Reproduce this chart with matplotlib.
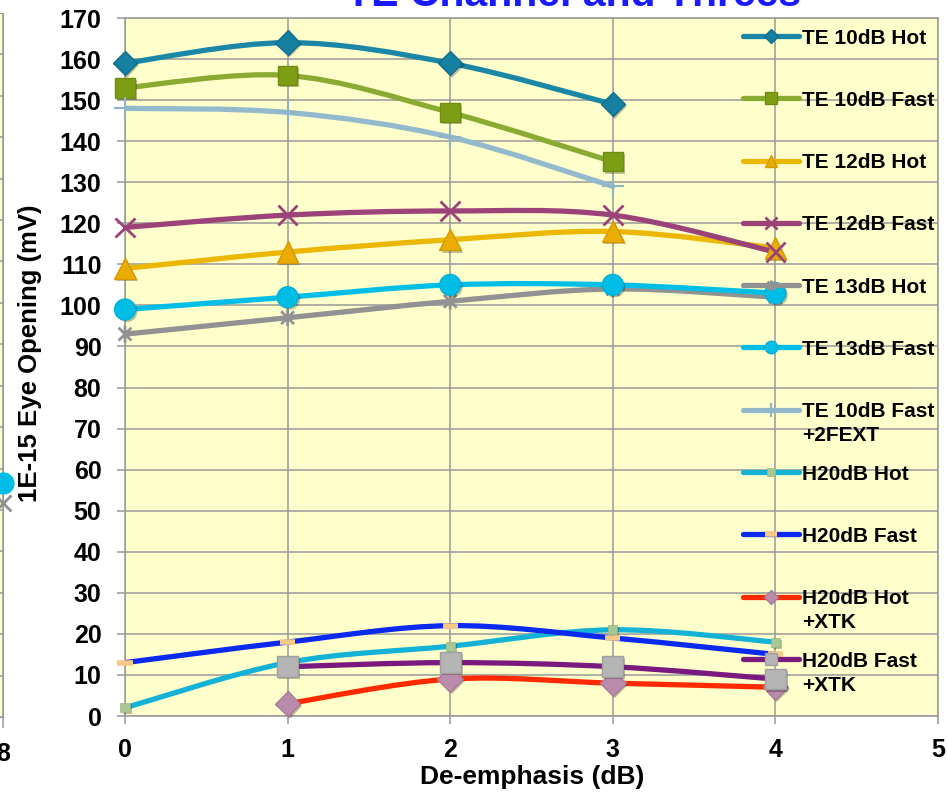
import numpy as np
import matplotlib
matplotlib.use("Agg")
import matplotlib.pyplot as plt
from matplotlib.path import Path
from matplotlib.patches import PathPatch
import matplotlib.patheffects as pe

plt.rcParams['font.family'] = ['Liberation Sans', 'DejaVu Sans']
plt.rcParams['font.weight'] = 'bold'

# ---------------- data ----------------
de_emph = [0, 1, 2, 3, 4]
te10_hot = [159, 164, 159, 149]
te10_fast = [153, 156, 147, 135]
te12_hot = [109, 113, 116, 118, 114]
te12_fast = [119, 122, 123, 122, 113]
te13_hot = [93, 97, 101, 104, 102]
te13_fast = [99, 102, 105, 105, 103]
te10_fast_fext = [148, 147, 141, 129]
h20_hot = [2, 13, 17, 21, 18]
h20_fast = [13, 18, 22, 19, 15]
h20_hot_xtk = [3, 9, 8, 7]
h20_fast_xtk = [12, 13, 12, 9]

# neighbour chart sliver at the left edge (last points at x=8)
nb_x = [8]
nb_cyan = [56.5]
nb_gray = [51.7]

yticks = list(range(0, 171, 10))
xticks = [0, 1, 2, 3, 4, 5]

# asterisk marker (X with a vertical bar) like Excel's star marker
star = Path([(-1, -1), (1, 1), (-1, 1), (1, -1), (0, -1.3), (0, 1.3)],
            [Path.MOVETO, Path.LINETO, Path.MOVETO, Path.LINETO, Path.MOVETO, Path.LINETO])

# name, x, y, line colour, marker style dict, legend marker scale
series = [
    ("TE 10dB Hot", de_emph[:4], te10_hot, "#1b87a6",
     dict(marker="D", ms=12.5, mfc="#15809f", mec="#0f6f8c", mew=1), 0.55),
    ("TE 10dB Fast", de_emph[:4], te10_fast, "#8baa32",
     dict(marker="s", ms=14, mfc="#7d9e14", mec="#6f8d10", mew=1), 0.6),
    ("TE 12dB Hot", de_emph, te12_hot, "#ebb700",
     dict(marker="^", ms=15.5, mfc="#eaac00", mec="#d49a00", mew=1), 0.6),
    ("TE 12dB Fast", de_emph, te12_fast, "#9b4379",
     dict(marker="x", ms=14, mfc="none", mec="#9b4379", mew=2), 0.6),
    ("TE 13dB Hot", de_emph, te13_hot, "#929292",
     dict(marker=star, ms=12, mfc="none", mec="#929292", mew=2), 0.6),
    ("TE 13dB Fast", de_emph, te13_fast, "#00bfe6",
     dict(marker="o", ms=15, mfc="#00bde6", mec="#00b0d6", mew=1), 0.6),
    ("TE 10dB Fast\n+2FEXT", de_emph[:4], te10_fast_fext, "#93b9cd",
     dict(marker="+", ms=16, mfc="none", mec="#8fb4c8", mew=1.5), 0.6),
    ("H20dB Hot", de_emph, h20_hot, "#14b3d6",
     dict(marker="s", ms=6.5, mfc="#a9c792", mec="#98b883", mew=0.5), 0.8),
    ("H20dB Fast", de_emph, h20_fast, "#0a2af2",
     dict(marker="_", ms=11, mfc="#f8c888", mec="#f8c888", mew=4), 0.8),
    ("H20dB Hot\n+XTK", de_emph[1:], h20_hot_xtk, "#ff2a00",
     dict(marker="D", ms=13, mfc="#ba8cac", mec="#a87a9a", mew=1), 0.55),
    ("H20dB Fast\n+XTK", de_emph[1:], h20_fast_xtk, "#7b1a7e",
     dict(marker="s", ms=15, mfc="#b5b5b5", mec="#a0a0a0", mew=1), 0.6),
]


def smooth_path(xs, ys):
    # cubic bezier segments (Excel-style smoothed line)
    p = np.column_stack([xs, ys]).astype(float)
    n = len(p)
    verts = [p[0]]
    codes = [Path.MOVETO]
    for i in range(n - 1):
        p0 = p[max(i - 1, 0)]
        p1 = p[i]
        p2 = p[i + 1]
        p3 = p[min(i + 2, n - 1)]
        verts += [p1 + (p2 - p0) / 6.0, p2 - (p3 - p1) / 6.0, p2]
        codes += [Path.CURVE4] * 3
    return Path(verts, codes)


W, H = 948, 794
fig = plt.figure(figsize=(W / 100, H / 100), dpi=100)

# ---------------- sliver of the neighbouring chart ----------------
nax = fig.add_axes([-0.2, 1 - 717 / H, 0.2 + 3 / W, (717 - 13) / H])
nax.set_facecolor("#ffffcc")
nax.set_xlim(0, 8)
nax.set_ylim(0, 170)
nax.set_xticks([8])
nax.set_yticks(yticks)
nax.set_yticklabels([])
nax.grid(True, color="#999999", lw=1.1)
nax.tick_params(axis="x", direction="out", length=8, width=1.1, color="#999999",
                labelsize=18, pad=10)
nax.tick_params(axis="y", length=0)
for s in nax.spines.values():
    s.set_color("#999999")
nax.plot(nb_x, nb_cyan, "o", ms=15, color="#00bde6", clip_on=False, zorder=5)
nax.plot(nb_x, nb_gray, marker="x", ms=12, mew=2, color="#929292", ls="none",
         clip_on=False, zorder=5)

# ---------------- main chart ----------------
ax = fig.add_axes([125 / W, 1 - 716 / H, (938 - 125) / W, (716 - 18) / H])
ax.set_facecolor("#ffffcc")
ax.set_xlim(0, 5)
ax.set_ylim(0, 170)
ax.set_xticks(xticks)
ax.set_yticks(yticks)
ax.set_axisbelow(True)
ax.grid(True, color="#999999", lw=1.1)
for s in ax.spines.values():
    s.set_color("#999999")
    s.set_linewidth(1.1)
ax.tick_params(direction="out", length=6, width=1.1, color="#999999", labelsize=18)
ax.tick_params(axis="y", pad=11)
ax.tick_params(axis="x", pad=10)

shadow = [pe.SimplePatchShadow(offset=(1.5, -1.5), alpha=0.25, shadow_rgbFace="k"),
          pe.Normal()]

for name, xs, ys, col, mk, _ in series:
    ax.add_patch(PathPatch(smooth_path(xs, ys), fill=False, edgecolor=col, lw=3.8,
                           capstyle="round", joinstyle="round", zorder=3))
    ax.plot(xs, ys, ls="none", zorder=4, clip_on=False, path_effects=shadow, **mk)

# legend drawn in axes space, rows at fixed spacing like the original
row0 = (716 - 36) / 698
row_step = 62.3 / 698
line_step = 24 / 698
hx0, hx1 = (743 - 125) / 813, (799 - 125) / 813
tx = (802 - 125) / 813
for i, (name, xs, ys, col, mk, scl) in enumerate(series):
    y = row0 - i * row_step
    ax.plot([hx0, hx1], [y, y], transform=ax.transAxes, color=col, lw=3.8,
            solid_capstyle="round", clip_on=False, zorder=5)
    lm = dict(mk)
    lm["ms"] = mk["ms"] * scl
    ax.plot([(hx0 + hx1) / 2], [y], transform=ax.transAxes, ls="none",
            clip_on=False, zorder=6, **lm)
    for k, line in enumerate(name.split("\n")):
        ax.text(tx, y - 0.003 - k * line_step, line, transform=ax.transAxes,
                fontsize=15, fontweight="bold", va="center", ha="left", zorder=6)

fig.text(30 / W, 1 - 353 / H, "1E-15 Eye Opening (mV)", rotation=90,
         ha="center", va="center", fontsize=18.5, fontweight="bold")
fig.text(532 / W, 1 - 777 / H, "De-emphasis (dB)", ha="center", va="center",
         fontsize=19, fontweight="bold")
fig.text(573 / W, 1 - 6 / H, "TE Channel and Threes", ha="center", va="baseline",
         fontsize=29.5, fontweight="bold", color="#1a1aff")

fig.savefig("out.png", dpi=100)
